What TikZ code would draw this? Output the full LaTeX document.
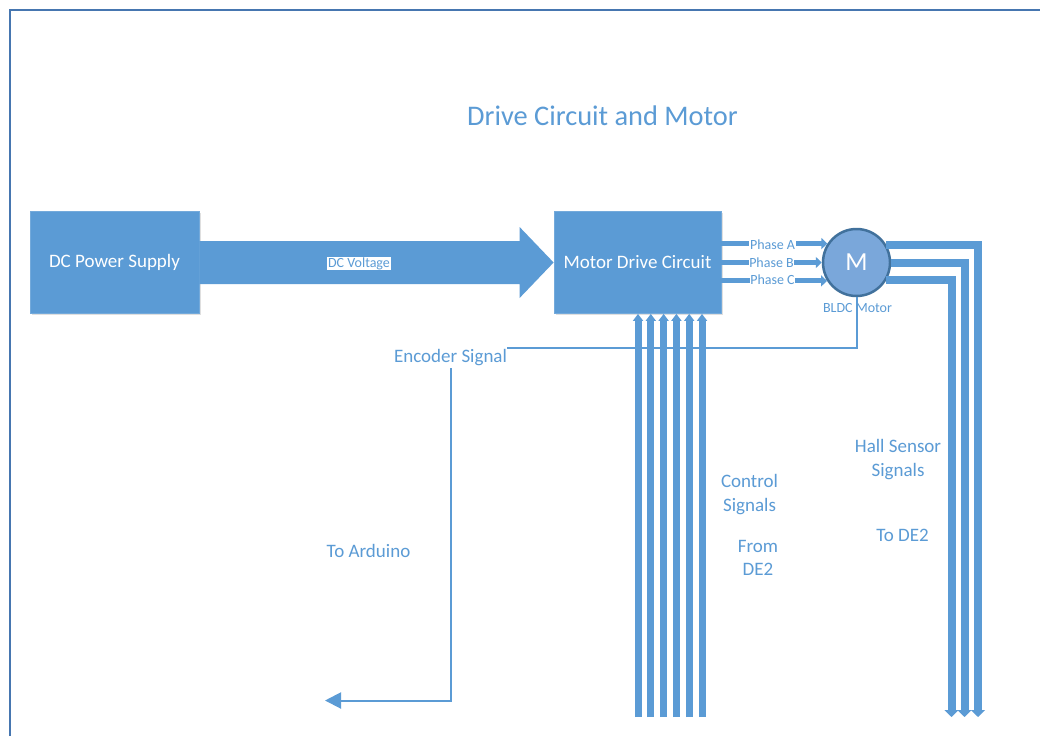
\documentclass[tikz,border=0pt]{standalone}
\usepackage{fontspec}
\setmainfont{Carlito}
\usetikzlibrary{arrows.meta,calc,shadows}
\definecolor{blockblue}{HTML}{5B9BD5}
\definecolor{edgeblue}{HTML}{41719C}
\definecolor{motorfill}{HTML}{7AA7DA}
\definecolor{frameblue}{HTML}{4676B0}
\tikzset{
  block/.style={draw=blockblue!85!white, line width=0.8pt, fill=blockblue, text=white,
    font=\fontsize{19}{22}\selectfont, minimum width=169pt, minimum height=102pt,
    inner sep=0pt, drop shadow={shadow xshift=1.5pt, shadow yshift=-1.5pt, opacity=0.25, fill=black!50}},
  lbl/.style={text=blockblue, font=\fontsize{19}{23.5}\selectfont, align=center, inner sep=0pt},
  smalllbl/.style={text=blockblue, font=\fontsize{14}{16}\selectfont, inner sep=0.6pt},
  phase/.style={draw=blockblue, line width=5pt, -{Triangle[width=11pt,length=6pt]}},
  ctrl/.style={draw=blockblue, line width=7pt, -{Triangle[width=10pt,length=7pt]}},
  hall/.style={draw=blockblue, line width=8pt, -{Triangle[width=14pt,length=7pt]}},
  sig/.style={draw=blockblue, line width=2pt},
}
\begin{document}
\begin{tikzpicture}[x=1pt,y=-1pt]
\useasboundingbox (0,0) rectangle (1040,736);
\fill[white] (0,0) rectangle (1040,736);

% page frame
\draw[frameblue, line width=2pt] (10,736) -- (10,10) -- (1040,10);

% title
\node[lbl, font=\fontsize{28.4}{32}\selectfont] (title) at (602.5,116) {Drive Circuit and Motor};

% blocks
\node[block] (psu) at (114.5,262.5) {DC Power Supply};
\node[block, minimum width=167pt] (mdc) at (637.5,262.5) {Motor Drive Circuit};

% motor
\node[circle, draw=edgeblue, line width=2.5pt, fill=motorfill, minimum size=67pt,
      text=white, font=\fontsize{26}{28}\selectfont, inner sep=0pt] (motor) at (856.5,262.5) {M};
\node[smalllbl] (bldc) at (857.5,308) {BLDC Motor};

% DC voltage block arrow
\fill[blockblue] ($(psu.east)+(0,-21.5)$) -- ($(mdc.west)+(-34,-21.5)$) -- ($(mdc.west)+(-34,-35.5)$)
  -- (mdc.west) -- ($(mdc.west)+(-34,35.5)$) -- ($(mdc.west)+(-34,21.5)$) -- ($(psu.east)+(0,21.5)$) -- cycle;
\node[smalllbl, fill=white] (dcv) at (359,263.5) {DC Voltage};

% encoder signal back to the Arduino
\node[lbl] (enc) at (450.5,358) {Encoder Signal};
\coordinate (ard) at (325,700.5);
\draw[sig] (motor.south) |- ($(enc.east)+(0,-10.5)$);
\draw[sig, -{Triangle[width=16pt,length=16pt]}] ($(enc.south)+(0,2)$) |- (ard);
\node[lbl] (toard) at (368.5,551) {To Arduino};

% control signals from the DE2
\foreach \i/\x in {1/638,2/650.8,3/663.6,4/676.4,5/689.2,6/702} {
  \coordinate (c\i) at (\x,717);
  \draw[ctrl] (c\i) -- (c\i |- mdc.south);
}
\node[lbl] (ctrllbl) at (749.5,494.5) {Control\\Signals};
\node[lbl] (fromde) at (758,558) {From\\DE2};

% phase lines into the motor
\draw[phase] (mdc.east |- motor.147.5) -- (motor.147.5);
\draw[phase] (mdc.east |- motor.west) -- (motor.west);
\draw[phase] (mdc.east |- motor.212.5) -- (motor.212.5);
\node[smalllbl, fill=white] (pa) at (772.5,245) {Phase A};
\node[smalllbl, fill=white] (pb) at (771.5,263) {Phase B};
\node[smalllbl, fill=white] (pc) at (772.5,280) {Phase C};

% hall sensor signals to the DE2
\coordinate (h1) at (978,717);
\coordinate (h2) at (964.5,717);
\coordinate (h3) at (951.5,717);
\draw[hall] (motor.31.5) -| (h1);
\draw[hall] (motor.east) -| (h2);
\draw[hall] (motor.-31.5) -| (h3);
\node[lbl] (halllbl) at (898,459.5) {Hall Sensor\\Signals};
\node[lbl] (tode) at (902.5,535.5) {To DE2};
\end{tikzpicture}
\end{document}
